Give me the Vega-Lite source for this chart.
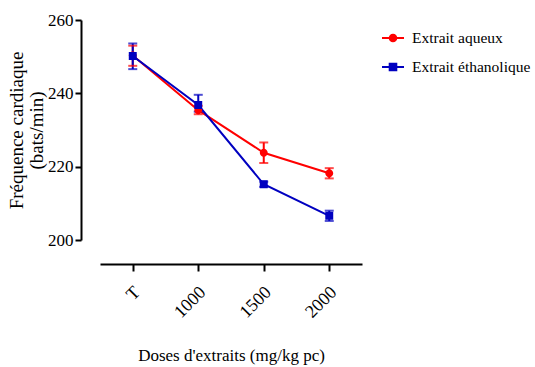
{
  "$schema": "https://vega.github.io/schema/vega-lite/v6.json",
  "autosize": "none",
  "padding": {"left": 100, "top": 20, "right": 173, "bottom": 127},
  "width": 262,
  "height": 220,
  "background": "white",
  "config": {
    "view": {"stroke": null},
    "font": "Liberation Serif",
    "axis": {
      "grid": false,
      "domainColor": "black",
      "tickColor": "black",
      "labelColor": "black",
      "titleColor": "black",
      "domainWidth": 2,
      "tickWidth": 2,
      "labelFont": "Liberation Serif",
      "titleFont": "Liberation Serif",
      "titleFontWeight": "normal"
    },
    "legend": {"labelFont": "Liberation Serif"}
  },
  "data": {
    "values": [
      {"dose": "T", "series": "Extrait aqueux", "mean": 250.3, "lo": 247.5, "hi": 253.0},
      {"dose": "1000", "series": "Extrait aqueux", "mean": 235.4, "lo": 234.3, "hi": 236.6},
      {"dose": "1500", "series": "Extrait aqueux", "mean": 223.8, "lo": 221.0, "hi": 226.6},
      {"dose": "2000", "series": "Extrait aqueux", "mean": 218.2, "lo": 216.8, "hi": 219.6},
      {"dose": "T", "series": "Extrait éthanolique", "mean": 250.2, "lo": 246.6, "hi": 253.6},
      {"dose": "1000", "series": "Extrait éthanolique", "mean": 236.8, "lo": 235.0, "hi": 239.6},
      {"dose": "1500", "series": "Extrait éthanolique", "mean": 215.2, "lo": 214.5, "hi": 215.9},
      {"dose": "2000", "series": "Extrait éthanolique", "mean": 206.6, "lo": 205.2, "hi": 208.0}
    ]
  },
  "encoding": {
    "x": {
      "field": "dose",
      "type": "ordinal",
      "sort": ["T", "1000", "1500", "2000"],
      "scale": {"type": "point", "padding": 0.5},
      "axis": {
        "title": "Doses d'extraits (mg/kg pc)",
        "titleFontSize": 17,
        "titlePadding": 26,
        "labelAngle": -45,
        "labelFontSize": 18,
        "labelPadding": 12,
        "labelOffset": -2,
        "tickSize": 7,
        "offset": 24
      }
    },
    "color": {
      "field": "series",
      "type": "nominal",
      "scale": {"domain": ["Extrait aqueux", "Extrait éthanolique"], "range": ["#ff0000", "#0000c0"]},
      "legend": {
        "title": null,
        "orient": "none",
        "legendX": 281,
        "legendY": 6,
        "padding": 0,
        "symbolOpacity": 1,
        "symbolStrokeWidth": 2,
        "symbolSize": 484,
        "labelFontSize": 15.5,
        "labelColor": "black",
        "labelOffset": 7,
        "rowPadding": 8,
        "encode": {
          "symbols": {"update": {"stroke": {"scale": "color", "field": "value"}, "strokeWidth": {"value": 2}}}
        }
      }
    }
  },
  "layer": [
    {
      "mark": {"type": "line", "strokeWidth": 2},
      "encoding": {
        "y": {
          "field": "mean",
          "type": "quantitative",
          "scale": {"domain": [200, 260], "nice": false, "zero": false},
          "axis": {
            "title": ["Fréquence cardiaque", "(bats/min)"],
            "titleFontSize": 19,
            "titleLineHeight": 20,
            "titlePadding": 1,
            "values": [200, 220, 240, 260],
            "labelFontSize": 17,
            "labelPadding": 2,
            "tickSize": 6,
            "offset": 19
          }
        }
      }
    },
    {
      "mark": {"type": "rule", "strokeWidth": 2},
      "encoding": {
        "y": {"field": "lo", "type": "quantitative"},
        "y2": {"field": "hi"}
      }
    },
    {
      "mark": {"type": "tick", "thickness": 2, "size": 9},
      "encoding": {
        "y": {"field": "lo", "type": "quantitative"}
      }
    },
    {
      "mark": {"type": "tick", "thickness": 2, "size": 9},
      "encoding": {
        "y": {"field": "hi", "type": "quantitative"}
      }
    },
    {
      "mark": {"type": "point", "filled": true, "opacity": 1, "size": 700},
      "encoding": {
        "y": {"field": "mean", "type": "quantitative"},
        "shape": {
          "field": "series",
          "type": "nominal",
          "scale": {
            "domain": ["Extrait aqueux", "Extrait éthanolique"],
            "range": [
              "M-1,0H1M-0.3,0A0.3,0.3 0 1,0 0.3,0A0.3,0.3 0 1,0 -0.3,0Z",
              "M-1,0H1M-0.3,-0.3H0.3V0.3H-0.3Z"
            ]
          }
        }
      }
    }
  ]
}
